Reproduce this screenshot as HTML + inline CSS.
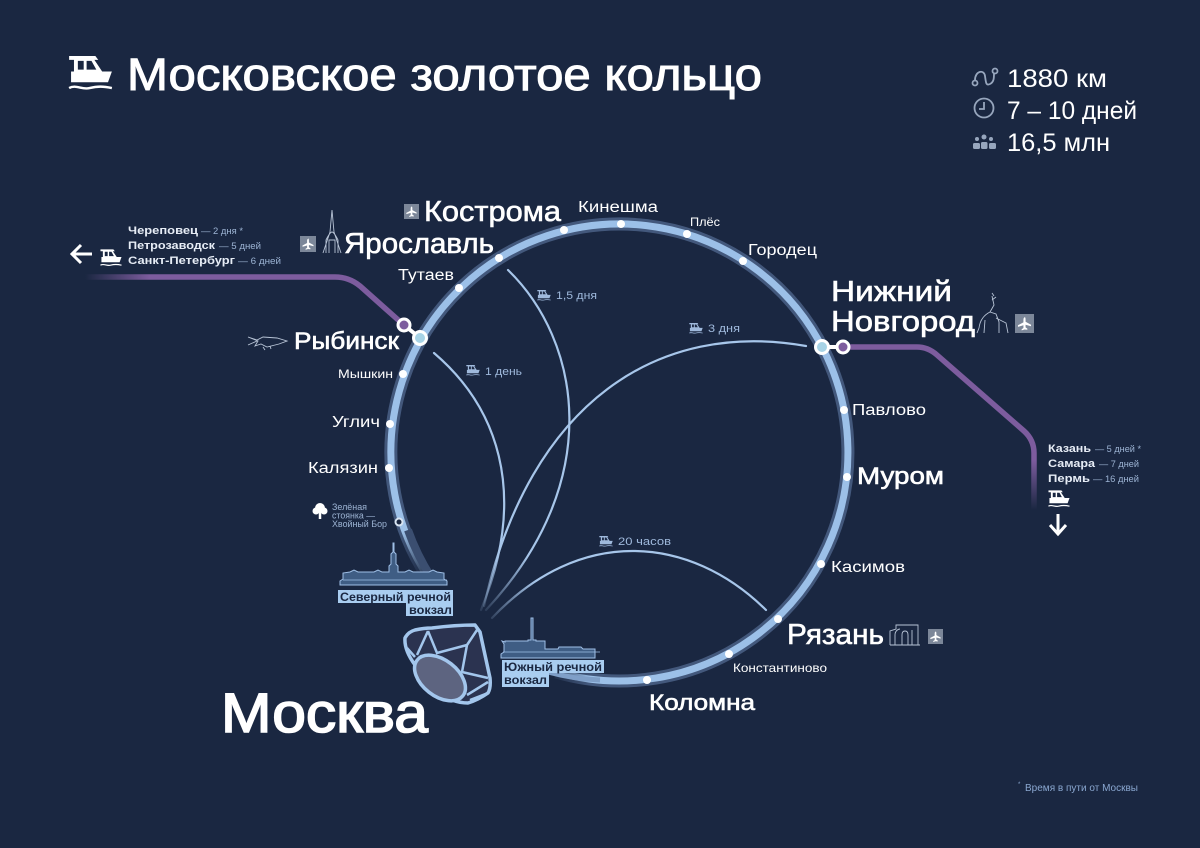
<!DOCTYPE html>
<html lang="ru"><head><meta charset="utf-8"><title>Московское золотое кольцо</title>
<style>html,body{margin:0;padding:0;background:#1a2741}svg{display:block}
text{font-family:"Liberation Sans","DejaVu Sans",sans-serif;fill:#fff}
.m{stroke:#fff;stroke-width:.6px}
.d{fill:#9db4d4;font-size:9px}
.t{fill:#9fb9dc;font-size:11px}
.s{font-size:11px;font-weight:700;fill:#e6ecf5}
</style></head><body>
<svg width="1200" height="848" viewBox="0 0 1200 848" xmlns="http://www.w3.org/2000/svg">
<defs>
<linearGradient id="pl" gradientUnits="userSpaceOnUse" x1="85" y1="0" x2="150" y2="0"><stop offset="0" stop-color="#7d5c9e" stop-opacity="0"/><stop offset="1" stop-color="#7d5c9e"/></linearGradient>
<linearGradient id="pr" gradientUnits="userSpaceOnUse" x1="0" y1="460" x2="0" y2="510"><stop offset="0" stop-color="#7d5c9e"/><stop offset="1" stop-color="#7d5c9e" stop-opacity="0"/></linearGradient>
<linearGradient id="fa" gradientUnits="userSpaceOnUse" x1="490" y1="550" x2="480" y2="612"><stop offset="0" stop-color="#a7c6ea"/><stop offset="1" stop-color="#a7c6ea" stop-opacity=".1"/></linearGradient>
<linearGradient id="fd" gradientUnits="userSpaceOnUse" x1="535" y1="580" x2="488" y2="622"><stop offset="0" stop-color="#a7c6ea"/><stop offset="1" stop-color="#a7c6ea" stop-opacity=".1"/></linearGradient>
<linearGradient id="mlg" gradientUnits="userSpaceOnUse" x1="406" y1="530" x2="430" y2="580"><stop offset="0" stop-color="#fff"/><stop offset="1" stop-color="#000"/></linearGradient>
<linearGradient id="mrg" gradientUnits="userSpaceOnUse" x1="590" y1="680" x2="548" y2="672"><stop offset="0" stop-color="#fff"/><stop offset="1" stop-color="#000"/></linearGradient>
<mask id="rm" maskUnits="userSpaceOnUse" x="0" y="0" width="1200" height="848">
<rect width="1200" height="848" fill="#fff"/>
<rect x="380" y="530" width="60" height="70" fill="url(#mlg)"/>
<rect x="540" y="655" width="50" height="40" fill="url(#mrg)"/>
</mask>
<symbol id="boat" viewBox="0 0 46 36"><path fill="currentColor" fill-rule="evenodd" d="M1 0H28L31 4H27L35 16H45L41 27H3V16H6V4H1ZM10 5V14H16V5ZM19 5V14H29L24 5Z"/><path d="M1 33c7-4 13 2 21 0s14-2 23 0" fill="none" stroke="currentColor" stroke-width="2.500"/></symbol>
<symbol id="plane" viewBox="0 0 16 16"><rect width="16" height="16" fill="#7c8799"/><path fill="#fff" d="M8 2.500c.6 0 .9.8.9 2v2l4.600 2.500v1.300l-4.600-1.300v2.300l1.500 1v1L8 13l-2.400.8v-1l1.500-1V9.500l-4.600 1.300V9.500l4.600-2.500v-2c0-1.200.3-2 .9-2z"/></symbol>
</defs>
<rect width="1200" height="848" fill="#1a2741"/>

<!-- title -->
<use href="#boat" x="68" y="56" width="45" height="35" color="#fff"/>
<text x="127" y="90" font-size="45" style="stroke:#fff;stroke-width:1px" textLength="635" lengthAdjust="spacingAndGlyphs">Московское золотое кольцо</text>

<!-- stats -->
<g fill="none" stroke="#97a6bd" stroke-width="1.800">
<circle cx="975" cy="83" r="2.500"/><circle cx="995" cy="71" r="2.500"/>
<path d="M975 80c0-9 9-11 10-4s1 10 5 8 4-6 4-11"/>
<circle cx="984" cy="108" r="9.500"/><path d="M984 102v7h-5"/>
</g>
<g fill="#97a6bd"><circle cx="984" cy="137" r="2.500"/><circle cx="977" cy="139" r="2"/><circle cx="991" cy="139" r="2"/><rect x="973" y="143" width="7" height="6" rx="1.500"/><rect x="981" y="142" width="6.500" height="7" rx="1.500"/><rect x="989" y="143" width="7" height="6" rx="1.500"/></g>
<text x="1007" y="87" font-size="25" textLength="100" lengthAdjust="spacingAndGlyphs">1880 км</text>
<text x="1007" y="119" font-size="25" textLength="130" lengthAdjust="spacingAndGlyphs">7 – 10 дней</text>
<text x="1007" y="151" font-size="25" textLength="103" lengthAdjust="spacingAndGlyphs">16,5 млн</text>

<!-- purple branches -->
<path d="M85 277H335q14 0 25 9L405 326" fill="none" stroke="url(#pl)" stroke-width="5.500"/>
<path d="M843 347H917q11 0 20 8L1024 431q10 9 10 22V460" fill="none" stroke="#7d5c9e" stroke-width="5.500"/>
<path d="M1034 460V510" fill="none" stroke="url(#pr)" stroke-width="5.500"/>

<!-- ring -->
<g mask="url(#rm)">
<path d="M434 586A228.500 228.500 0 1 1 556 672" fill="none" stroke="#7f9fc8" stroke-width="7"/>
<path d="M434 586A228.500 228.500 0 1 1 556 672" fill="none" stroke="#43587c" stroke-width="13"/>
<path d="M434 586A228.500 228.500 0 1 1 556 672" fill="none" stroke="#9cc0e8" stroke-width="7"/>
</g>
<path d="M408 530A228.500 228.500 0 0 0 431 577" fill="none" stroke="#3b4e70" stroke-width="8"/>
<path d="M548 672A228.500 228.500 0 0 0 600 680" fill="none" stroke="#7f9fc8" stroke-width="5"/>

<!-- inner routes -->
<g fill="none" stroke-width="2.200" stroke-linecap="round">
<path d="M434 353C495 405 530 490 481 610" stroke="url(#fa)"/>
<path d="M508 270C580 340 607 480 486 610" stroke="url(#fa)"/>
<path d="M806 346C660 320 530 400 484 606" stroke="url(#fa)"/>
<path d="M766 610C690 535 580 525 492 618" stroke="url(#fd)"/>
</g>

<!-- nodes -->
<g fill="#fff">
<circle cx="459" cy="288" r="4"/><circle cx="499" cy="258" r="4"/><circle cx="564" cy="230" r="4"/><circle cx="621" cy="224" r="4"/><circle cx="687" cy="234" r="4"/><circle cx="743" cy="261" r="4"/>
<circle cx="844" cy="410" r="4"/><circle cx="847" cy="477" r="4"/><circle cx="821" cy="564" r="4"/><circle cx="778" cy="619" r="4"/><circle cx="729" cy="654" r="4"/><circle cx="647" cy="680" r="4"/>
<circle cx="403" cy="374" r="4"/><circle cx="390" cy="424" r="4"/><circle cx="389" cy="468" r="4"/>
</g>
<circle cx="399" cy="522" r="3.500" fill="#1a2741" stroke="#d8e4f2" stroke-width="2"/>

<!-- transfers -->
<path d="M404 325L420 338" stroke="#fff" stroke-width="4"/>
<circle cx="404" cy="325" r="6" fill="#7d5c9e" stroke="#fff" stroke-width="3"/>
<circle cx="420" cy="338" r="6.500" fill="#a7d3e6" stroke="#fff" stroke-width="3"/>
<path d="M822 347H843" stroke="#fff" stroke-width="4"/>
<circle cx="822" cy="347" r="6.500" fill="#a7d3e6" stroke="#fff" stroke-width="3"/>
<circle cx="843" cy="347" r="6" fill="#7d5c9e" stroke="#fff" stroke-width="3"/>

<!-- large labels -->
<text x="424" y="221" font-size="29" class="m" textLength="137" lengthAdjust="spacingAndGlyphs">Кострома</text>
<text x="344" y="253" font-size="29" class="m" textLength="150" lengthAdjust="spacingAndGlyphs">Ярославль</text>
<text x="294" y="349" font-size="24" class="m" textLength="105" lengthAdjust="spacingAndGlyphs">Рыбинск</text>
<text x="831" y="301" font-size="29" class="m" textLength="121" lengthAdjust="spacingAndGlyphs">Нижний</text>
<text x="831" y="331" font-size="29" class="m" textLength="144" lengthAdjust="spacingAndGlyphs">Новгород</text>
<text x="857" y="484" font-size="24" class="m" textLength="87" lengthAdjust="spacingAndGlyphs">Муром</text>
<text x="787" y="644" font-size="29" class="m" textLength="97" lengthAdjust="spacingAndGlyphs">Рязань</text>
<text x="649" y="710" font-size="22" class="m" textLength="106" lengthAdjust="spacingAndGlyphs">Коломна</text>
<text x="221" y="732" font-size="56" style="stroke:#fff;stroke-width:1.600px" textLength="207" lengthAdjust="spacingAndGlyphs">Москва</text>

<!-- small labels -->
<text x="578" y="212" font-size="15.500" textLength="80" lengthAdjust="spacingAndGlyphs">Кинешма</text>
<text x="690" y="226" font-size="12" textLength="30" lengthAdjust="spacingAndGlyphs">Плёс</text>
<text x="748" y="255" font-size="15.500" textLength="69" lengthAdjust="spacingAndGlyphs">Городец</text>
<text x="398" y="280" font-size="15.500" textLength="56" lengthAdjust="spacingAndGlyphs">Тутаев</text>
<text x="338" y="378" font-size="12" textLength="55" lengthAdjust="spacingAndGlyphs">Мышкин</text>
<text x="332" y="427" font-size="15.500" textLength="48" lengthAdjust="spacingAndGlyphs">Углич</text>
<text x="308" y="473" font-size="15.500" textLength="70" lengthAdjust="spacingAndGlyphs">Калязин</text>
<text x="852" y="415" font-size="15.500" textLength="74" lengthAdjust="spacingAndGlyphs">Павлово</text>
<text x="831" y="572" font-size="15.500" textLength="74" lengthAdjust="spacingAndGlyphs">Касимов</text>
<text x="733" y="672" font-size="12" textLength="94" lengthAdjust="spacingAndGlyphs">Константиново</text>
<text x="332" y="510" class="d" textLength="35" lengthAdjust="spacingAndGlyphs">Зелёная</text>
<text x="332" y="518.500" class="d" textLength="43" lengthAdjust="spacingAndGlyphs">стоянка —</text>
<text x="332" y="527" class="d" textLength="55" lengthAdjust="spacingAndGlyphs">Хвойный Бор</text>
<path d="M320 519v-8" stroke="#fff" stroke-width="2.500"/><circle cx="320" cy="508" r="5" fill="#fff"/><circle cx="316" cy="511" r="3.500" fill="#fff"/><circle cx="324" cy="511" r="3.500" fill="#fff"/>

<!-- left & right destinations -->
<text x="128" y="234" class="s" textLength="70" lengthAdjust="spacingAndGlyphs">Череповец</text><text x="201" y="234" class="d" textLength="42" lengthAdjust="spacingAndGlyphs">— 2 дня *</text>
<text x="128" y="249" class="s" textLength="87" lengthAdjust="spacingAndGlyphs">Петрозаводск</text><text x="219" y="249" class="d" textLength="42" lengthAdjust="spacingAndGlyphs">— 5 дней</text>
<text x="128" y="264" class="s" textLength="107" lengthAdjust="spacingAndGlyphs">Санкт-Петербург</text><text x="238" y="264" class="d" textLength="43" lengthAdjust="spacingAndGlyphs">— 6 дней</text>
<text x="1048" y="452" class="s" textLength="43" lengthAdjust="spacingAndGlyphs">Казань</text><text x="1095" y="452" class="d" textLength="46" lengthAdjust="spacingAndGlyphs">— 5 дней *</text>
<text x="1048" y="467" class="s" textLength="47" lengthAdjust="spacingAndGlyphs">Самара</text><text x="1099" y="467" class="d" textLength="40" lengthAdjust="spacingAndGlyphs">— 7 дней</text>
<text x="1048" y="482" class="s" textLength="42" lengthAdjust="spacingAndGlyphs">Пермь</text><text x="1093" y="482" class="d" textLength="46" lengthAdjust="spacingAndGlyphs">— 16 дней</text>
<use href="#boat" x="100" y="249" width="22" height="18" color="#fff"/>
<use href="#boat" x="1048" y="490" width="22" height="18" color="#fff"/>
<path d="M92 254H72M81 245l-9 9 9 9" fill="none" stroke="#fff" stroke-width="3"/>
<path d="M1058 514V533M1050 525l8 9 8-9" fill="none" stroke="#fff" stroke-width="3"/>

<!-- route times -->
<g color="#9fb9dc">
<use href="#boat" x="466" y="365" width="14" height="11"/><use href="#boat" x="537" y="290" width="14" height="11"/><use href="#boat" x="689" y="323" width="14" height="11"/><use href="#boat" x="599" y="536" width="14" height="11"/>
</g>
<text x="485" y="375" class="t" textLength="37" lengthAdjust="spacingAndGlyphs">1 день</text>
<text x="556" y="299" class="t" textLength="41" lengthAdjust="spacingAndGlyphs">1,5 дня</text>
<text x="708" y="332" class="t" textLength="32" lengthAdjust="spacingAndGlyphs">3 дня</text>
<text x="618" y="545" class="t" textLength="53" lengthAdjust="spacingAndGlyphs">20 часов</text>
<text x="1018" y="786" font-size="6" style="fill:#8aa7d0">*</text>
<text x="1025" y="791" font-size="10" style="fill:#8aa7d0" textLength="113" lengthAdjust="spacingAndGlyphs">Время в пути от Москвы</text>

<!-- planes -->
<use href="#plane" x="404" y="204" width="15" height="15"/>
<use href="#plane" x="300" y="236" width="16" height="16"/>
<use href="#plane" x="1015" y="314" width="19" height="19"/>
<use href="#plane" x="928" y="629" width="15" height="15"/>

<!-- landmark line icons -->
<g fill="none" stroke="#b8c4d6" stroke-width=".9">
<path d="M323 253L330 232 332 210 334 232 341 253M326 253V240Q330 232 332 232 334 232 338 240V253M329 253V240H335V253"/>
<path d="M248 337l9 3 6-3 14 1 10 3-8 3-12 3-6-3-6 2 3-5zM248 345l9-4M263 347l2 3M270 346l1 3"/>
<path d="M992 296l2 9-4 7c-6 3-10 8-11 16M990 312l6 2 3 8v11M985 320l-1 13M979 328l-2 5M994 296l-2-3M992 300l4-3M1008 333l-2-10-10-5"/>
<path d="M890 645v-14l6-2v-4h22v20M895 645v-10c0-4 3-6 5-6M902 645v-10q0-4 3-4t3 4v10M912 645v-15M890 645h30"/>
</g>

<!-- stations -->
<g fill="#3f5d84" stroke="#9fbfe6" stroke-width="1">
<path d="M340 585v-4l3-2v-6l7-1 4-2 4 2h16l4-2 4 2h7v-6l2-2v-10l2-2v-9h1v9l2 2v10l2 2v6h7l4-2 4 2h16l4-2 4 2 7 1v6l3 2v4z"/>
<path d="M501 658v-4l3-2v-8l-2-3 3 1v-1h23v-1h3v-22h2v22h3v1h9v8h13l1-2h22l2 2h12v9z"/>
</g>
<g stroke="#9fbfe6" stroke-width=".8" fill="none">
<path d="M343 580h104M503 652h97"/>
</g>
<rect x="338" y="590" width="115" height="13" fill="#a9cdf0"/><rect x="406" y="603" width="47" height="13" fill="#a9cdf0"/>
<text x="340" y="601" font-size="11.500" font-weight="700" style="fill:#1a2741" textLength="111" lengthAdjust="spacingAndGlyphs">Северный речной</text>
<text x="409" y="614" font-size="11.500" font-weight="700" style="fill:#1a2741" textLength="43" lengthAdjust="spacingAndGlyphs">вокзал</text>
<rect x="502" y="660" width="102" height="13" fill="#a9cdf0"/><rect x="502" y="673" width="47" height="14" fill="#a9cdf0"/>
<text x="504" y="671" font-size="11.500" font-weight="700" style="fill:#1a2741" textLength="98" lengthAdjust="spacingAndGlyphs">Южный речной</text>
<text x="504" y="684" font-size="11.500" font-weight="700" style="fill:#1a2741" textLength="43" lengthAdjust="spacingAndGlyphs">вокзал</text>

<!-- diamond -->
<path d="M405 638Q408 632 415 630Q424 628 432 628Q455 625 475 625L480 632L490 678Q491 688 488 693Q478 700 468 703Q460 703 452 700Q435 685 415 665Q404 650 405 638Z" fill="#2b3350" stroke="#a3c6ec" stroke-width="3.500" stroke-linejoin="round"/>
<g fill="none" stroke="#a3c6ec" stroke-width="2.500">
<path d="M428 631L417 655M428 631L437 653L467 645L477 630M467 645L462 672L488 678M467 695L488 682M470 700L488 693M407 648L415 657"/>
</g>
<ellipse cx="440" cy="678" rx="29" ry="18" transform="rotate(38 440 678)" fill="#5d6480" stroke="#a3c6ec" stroke-width="3.500"/>
</svg>
</body></html>
